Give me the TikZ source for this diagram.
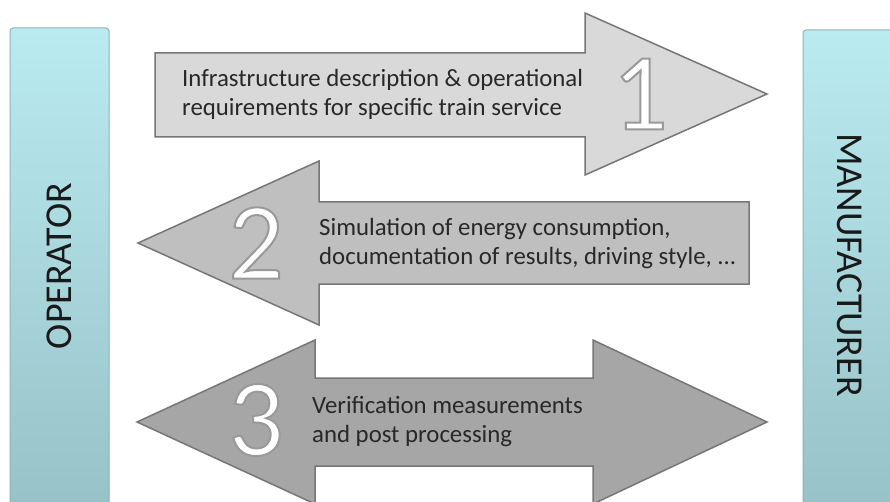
\documentclass[tikz,border=0pt]{standalone}
\usepackage{fontspec}
\setmainfont{Carlito}
\usetikzlibrary{positioning}
\definecolor{barTop}{RGB}{185,235,241}
\definecolor{barBot}{RGB}{150,192,197}
\definecolor{barLine}{RGB}{140,180,185}
\definecolor{arrowOne}{RGB}{217,217,217}
\definecolor{arrowTwo}{RGB}{191,191,191}
\definecolor{arrowThree}{RGB}{166,166,166}
\definecolor{arrowLine}{RGB}{118,118,118}
\definecolor{textGray}{RGB}{40,40,40}
\tikzstyle{party} = [draw=barLine, line width=1pt, top color=barTop, bottom color=barBot, rounded corners=3pt]
\tikzstyle{partylabel} = [font=\fontsize{38}{38}\selectfont, text=black!90, inner sep=0pt]
\tikzstyle{flow} = [draw=arrowLine, line width=1.5pt, line join=miter]
\tikzstyle{flowtext} = [font=\fontsize{24.8}{29}\selectfont, text=textGray, align=left, anchor=west, inner sep=0pt]
\tikzstyle{stepnum} = [font=\fontsize{110}{110}\selectfont, text=white, inner sep=0pt]

% white digit, outlined in grey (fill + stroke text mode)
\newcommand{\rimdigit}[1]{%
  \special{pdf:literal direct 2 Tr 2 w 0.6 G}#1\special{pdf:literal direct 0 Tr}}

\begin{document}
\begin{tikzpicture}[x=1pt, y=-1pt]
\useasboundingbox (0,0) rectangle (890,502);
\clip (0,0) rectangle (890,502);

% --------- Parties ----------
\draw[party] (10,28) rectangle (109,530);
\draw[party] (803,30) rectangle (900,530);
\node (OPLABEL)  [partylabel, rotate=90]  at (59,266)  {OPERATOR};
\node (MANLABEL) [partylabel, rotate=-90] at (850,265) {MANUFACTURER};

% --------- Arrow 1 (to manufacturer) ----------
\draw[flow, fill=arrowOne] (155,53) -- (585,53) -- (585,13) -- (767,94)
  -- (585,175) -- (585,137) -- (155,137) -- cycle;
\node (REQ) [flowtext] at (182,94)
  {Infrastructure description \& operational\\requirements for specific train service};
\node (ONE) [stepnum] at (640,94) {\rimdigit{1}};

% --------- Arrow 2 (to operator) ----------
\draw[flow, fill=arrowTwo] (749,202) -- (319,202) -- (319,161) -- (138,243)
  -- (319,325) -- (319,284) -- (749,284) -- cycle;
\node (SIM) [flowtext] at (319,244)
  {Simulation of energy consumption,\\documentation of results, driving style, ...};
\node (TWO) [stepnum] at (256,243) {\rimdigit{2}};

% --------- Arrow 3 (both ways) ----------
\draw[flow, fill=arrowThree] (137,422) -- (315,340) -- (315,378) -- (593,378)
  -- (593,340) -- (767,422) -- (593,504) -- (593,466) -- (315,466)
  -- (315,504) -- cycle;
\node (VER) [flowtext] at (312,422)
  {Verification measurements\\and post processing};
\node (THREE) [stepnum] at (256,420) {\rimdigit{3}};

\end{tikzpicture}
\end{document}
